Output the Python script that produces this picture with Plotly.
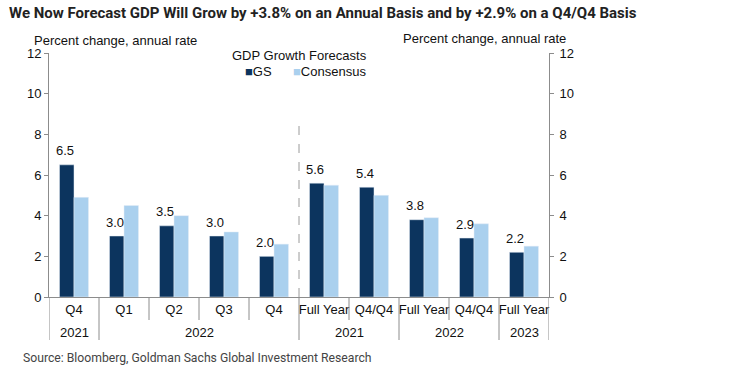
import plotly.graph_objects as go

periods = ["Q4", "Q1", "Q2", "Q3", "Q4", "Full Year", "Q4/Q4", "Full Year", "Q4/Q4", "Full Year"]
years = ["2021", "2022", "2022", "2022", "2022", "2021", "2021", "2022", "2022", "2023"]
gs = [6.5, 3.0, 3.5, 3.0, 2.0, 5.6, 5.4, 3.8, 2.9, 2.2]
consensus = [4.9, 4.5, 4.0, 3.2, 2.6, 5.5, 5.0, 3.9, 3.6, 2.5]
y_ticks = [0, 2, 4, 6, 8, 10, 12]

GS_COLOR = "#0c345e"
CONS_COLOR = "#aad0ee"
AXIS_COLOR = "#8c8c8c"
FONT = "Liberation Sans, Arial, sans-serif"
TITLE_FONT = "Roboto, Liberation Sans, sans-serif"

W, H = 730, 375
L, R, T, B = 49, 181, 53, 78
PW, PH = W - L - R, H - T - B
BARGAP = 0.42


def px(xp):
    return (xp - L) / PW


def py(yp):
    return (H - B - yp) / PH


x = list(range(len(periods)))
bar_w = (1 - BARGAP) / 2

fig = go.Figure()
fig.add_trace(go.Bar(x=x, y=gs, name="GS", marker_color=GS_COLOR, showlegend=False))
fig.add_trace(go.Bar(x=x, y=consensus, name="Consensus", marker_color=CONS_COLOR,
                     showlegend=False))
# invisible trace to anchor right axis
fig.add_trace(go.Scatter(x=[x[0]], y=[0], yaxis="y2", mode="markers",
                         marker=dict(opacity=0), showlegend=False, hoverinfo="skip"))

shapes = []
# separators under the x axis
for b in range(len(periods) + 1):
    edge = b == 0 or b == len(periods)
    long_line = edge or years[b - 1] != years[b]
    depth = 43 if long_line else 23
    shapes.append(dict(type="line", xref="x", yref="paper", x0=b - 0.5, x1=b - 0.5,
                       y0=0, y1=-depth / PH, line=dict(color=AXIS_COLOR, width=1)))
# dashed divider between quarterly and annual
split = periods.index("Full Year") - 0.5
shapes.append(dict(type="line", xref="x", yref="y", x0=split, x1=split, y0=0, y1=8.6,
                   line=dict(color="#9a9a9a", width=1, dash="dash")))

annotations = []
# GS value labels
for i, v in zip(x, gs):
    annotations.append(dict(x=i - bar_w / 2, y=v, xref="x", yref="y", text=f"{v:.1f}",
                            showarrow=False, xshift=-2, yshift=14, yanchor="middle",
                            font=dict(size=13, color="#111", family=FONT)))
# year labels
groups = []
for i, yr in enumerate(years):
    if groups and groups[-1][0] == yr and groups[-1][2] == i - 1:
        groups[-1][2] = i
    else:
        groups.append([yr, i, i])
for yr, a, b in groups:
    annotations.append(dict(x=(a + b) / 2, y=0, xref="x", yref="paper", text=yr,
                            showarrow=False, yshift=-35, yanchor="middle",
                            font=dict(size=13, color="#111", family=FONT)))

annotations += [
    dict(x=px(7), y=py(13), xref="paper", yref="paper", xanchor="left", yanchor="middle",
         text="<b>We Now Forecast GDP Will Grow by +3.8% on an Annual Basis and by +2.9% on a Q4/Q4 Basis</b>",
         showarrow=False, font=dict(size=15, color="#222", family=TITLE_FONT)),
    dict(x=px(21), y=py(358), xref="paper", yref="paper", xanchor="left", yanchor="middle",
         text="Source: Bloomberg, Goldman Sachs Global Investment Research",
         showarrow=False, font=dict(size=12.2, color="#444", family=TITLE_FONT)),
    dict(x=px(32), y=py(40), xref="paper", yref="paper", xanchor="left", yanchor="middle",
         text="Percent change, annual rate", showarrow=False,
         font=dict(size=13, color="#111", family=FONT)),
    dict(x=px(401), y=py(38), xref="paper", yref="paper", xanchor="left", yanchor="middle",
         text="Percent change, annual rate", showarrow=False,
         font=dict(size=13, color="#111", family=FONT)),
    dict(x=px(299), y=py(56), xref="paper", yref="paper", xanchor="center", yanchor="middle",
         text="GDP Growth Forecasts", showarrow=False,
         font=dict(size=13, color="#111", family=FONT)),
    dict(x=px(243), y=py(71), xref="paper", yref="paper", xanchor="left", yanchor="middle",
         text=f"<span style='color:{GS_COLOR}'>■</span>GS", showarrow=False,
         font=dict(size=13, color="#111", family=FONT)),
    dict(x=px(291), y=py(71), xref="paper", yref="paper", xanchor="left", yanchor="middle",
         text=f"<span style='color:{CONS_COLOR}'>■</span>Consensus", showarrow=False,
         font=dict(size=13, color="#111", family=FONT)),
]

axis_common = dict(range=[0, 12], tickvals=y_ticks, ticks="outside", ticklen=4,
                   tickcolor=AXIS_COLOR, showline=True, linecolor=AXIS_COLOR, linewidth=1,
                   showgrid=False, zeroline=False,
                   tickfont=dict(size=13, color="#111", family=FONT))

fig.update_layout(
    width=W, height=H,
    margin=dict(l=L, r=R, t=T, b=B),
    paper_bgcolor="white", plot_bgcolor="white",
    barmode="group", bargap=BARGAP, bargroupgap=0,
    xaxis=dict(range=[-0.5, len(periods) - 0.5], tickvals=x, ticktext=periods,
               ticks="", showline=True, linecolor=AXIS_COLOR, linewidth=1,
               showgrid=False, zeroline=False,
               tickfont=dict(size=13, color="#111", family=FONT)),
    yaxis=dict(side="left", **axis_common),
    yaxis2=dict(side="right", overlaying="y", ticklabelstandoff=3, **axis_common),
    shapes=shapes, annotations=annotations,
    showlegend=False,
)

fig.write_html("out.html", config={"displayModeBar": False},
               post_script="document.body.style.margin='0';")
